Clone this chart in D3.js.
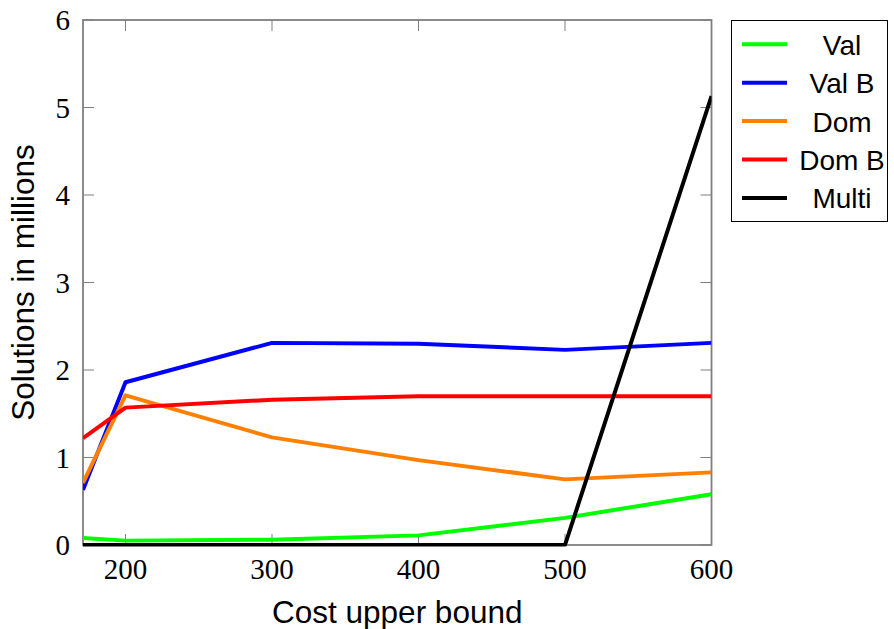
<!DOCTYPE html>
<html>
<head>
<meta charset="utf-8">
<script src="https://cdn.jsdelivr.net/npm/d3@7"></script>
<style>
  html, body { margin: 0; padding: 0; background: #fff; }
  svg { display: block; }
</style>
</head>
<body>
<svg id="chart" width="894" height="629"></svg>
<script>
// Cost bounds sampled on the x axis
const costs = [171, 200, 300, 400, 500, 600];

// Solutions (millions) per method
const valValues   = [0.08, 0.05, 0.06, 0.11, 0.31, 0.58];
const valBValues  = [0.63, 1.86, 2.31, 2.30, 2.23, 2.31];
const domValues   = [0.71, 1.71, 1.23, 0.97, 0.75, 0.83];
const domBValues  = [1.22, 1.57, 1.66, 1.70, 1.70, 1.70];
const multiValues = [0, 0, 0, 0, 0, 5.13];

const seriesNames  = ["Val", "Val B", "Dom", "Dom B", "Multi"];
const seriesColors = ["#00ff00", "#0000ff", "#ff8000", "#ff0000", "#000000"];
const seriesValues = [valValues, valBValues, domValues, domBValues, multiValues];

const xTicks = [200, 300, 400, 500, 600];
const yTicks = [0, 1, 2, 3, 4, 5, 6];

const svg = d3.select("#chart");
const plot = { left: 83, right: 711.5, top: 20, bottom: 545 };

const x = d3.scaleLinear().domain([171, 600]).range([plot.left, plot.right]);
const y = d3.scaleLinear().domain([0, 6]).range([plot.bottom, plot.top]);

const axisGray = "#7f7f7f";
const tickLen = 11;
const serif = "'Liberation Serif', 'DejaVu Serif', serif";
const sans = "'Liberation Sans', Arial, sans-serif";

// Inward ticks on all four sides
const g = svg.append("g");
const tickStyle = sel => sel.attr("stroke", axisGray).attr("stroke-width", 1);

g.selectAll(".xb").data(xTicks).join("line")
  .attr("x1", d => x(d)).attr("x2", d => x(d))
  .attr("y1", plot.bottom).attr("y2", plot.bottom - tickLen).call(tickStyle);
g.selectAll(".xt").data(xTicks).join("line")
  .attr("x1", d => x(d)).attr("x2", d => x(d))
  .attr("y1", plot.top).attr("y2", plot.top + tickLen).call(tickStyle);
g.selectAll(".yl").data(yTicks).join("line")
  .attr("x1", plot.left).attr("x2", plot.left + tickLen)
  .attr("y1", d => y(d)).attr("y2", d => y(d)).call(tickStyle);
g.selectAll(".yr").data(yTicks).join("line")
  .attr("x1", plot.right).attr("x2", plot.right - tickLen)
  .attr("y1", d => y(d)).attr("y2", d => y(d)).call(tickStyle);

// Frame
svg.append("rect")
  .attr("x", plot.left).attr("y", plot.top)
  .attr("width", plot.right - plot.left).attr("height", plot.bottom - plot.top)
  .attr("fill", "none").attr("stroke", axisGray).attr("stroke-width", 1.8);

// Tick labels
svg.append("g").selectAll("text").data(xTicks).join("text")
  .attr("x", d => x(d)).attr("y", 579)
  .attr("text-anchor", "middle")
  .attr("font-family", serif).attr("font-size", 29)
  .text(d => d);

svg.append("g").selectAll("text").data(yTicks).join("text")
  .attr("x", 70).attr("y", d => y(d))
  .attr("text-anchor", "end").attr("dominant-baseline", "central")
  .attr("font-family", serif).attr("font-size", 29)
  .text(d => d);

// Axis titles
svg.append("text")
  .attr("x", (plot.left + plot.right) / 2).attr("y", 623)
  .attr("text-anchor", "middle")
  .attr("font-family", sans).attr("font-size", 31.5)
  .text("Cost upper bound");

svg.append("text")
  .attr("transform", `translate(34, ${(plot.top + plot.bottom) / 2}) rotate(-90)`)
  .attr("text-anchor", "middle")
  .attr("font-family", sans).attr("font-size", 31.5)
  .text("Solutions in millions");

// Series lines, clipped to the plot area (a little slack at the bottom edge)
svg.append("clipPath").attr("id", "plotClip")
  .append("rect")
  .attr("x", plot.left).attr("y", plot.top)
  .attr("width", plot.right - plot.left).attr("height", plot.bottom - plot.top + 1.5);

const line = d3.line().x((d, i) => x(costs[i])).y(d => y(d));

svg.append("g").attr("clip-path", "url(#plotClip)")
  .selectAll("path").data(seriesValues).join("path")
  .attr("d", line)
  .attr("fill", "none")
  .attr("stroke", (d, i) => seriesColors[i])
  .attr("stroke-width", 4)
  .attr("stroke-linejoin", "round");

// Legend
const legend = svg.append("g");
legend.append("rect")
  .attr("x", 731.5).attr("y", 20.5).attr("width", 156).attr("height", 201)
  .attr("fill", "#fff").attr("stroke", "#000").attr("stroke-width", 1);

const rowY = i => 44.3 + i * 38.4;
legend.selectAll("line").data(seriesNames).join("line")
  .attr("x1", 742).attr("x2", 787)
  .attr("y1", (d, i) => rowY(i)).attr("y2", (d, i) => rowY(i))
  .attr("stroke", (d, i) => seriesColors[i]).attr("stroke-width", 4);
legend.selectAll("text").data(seriesNames).join("text")
  .attr("x", 842).attr("y", (d, i) => rowY(i) + 10.5)
  .attr("text-anchor", "middle")
  .attr("font-family", sans).attr("font-size", 28)
  .text(d => d);
</script>
</body>
</html>
